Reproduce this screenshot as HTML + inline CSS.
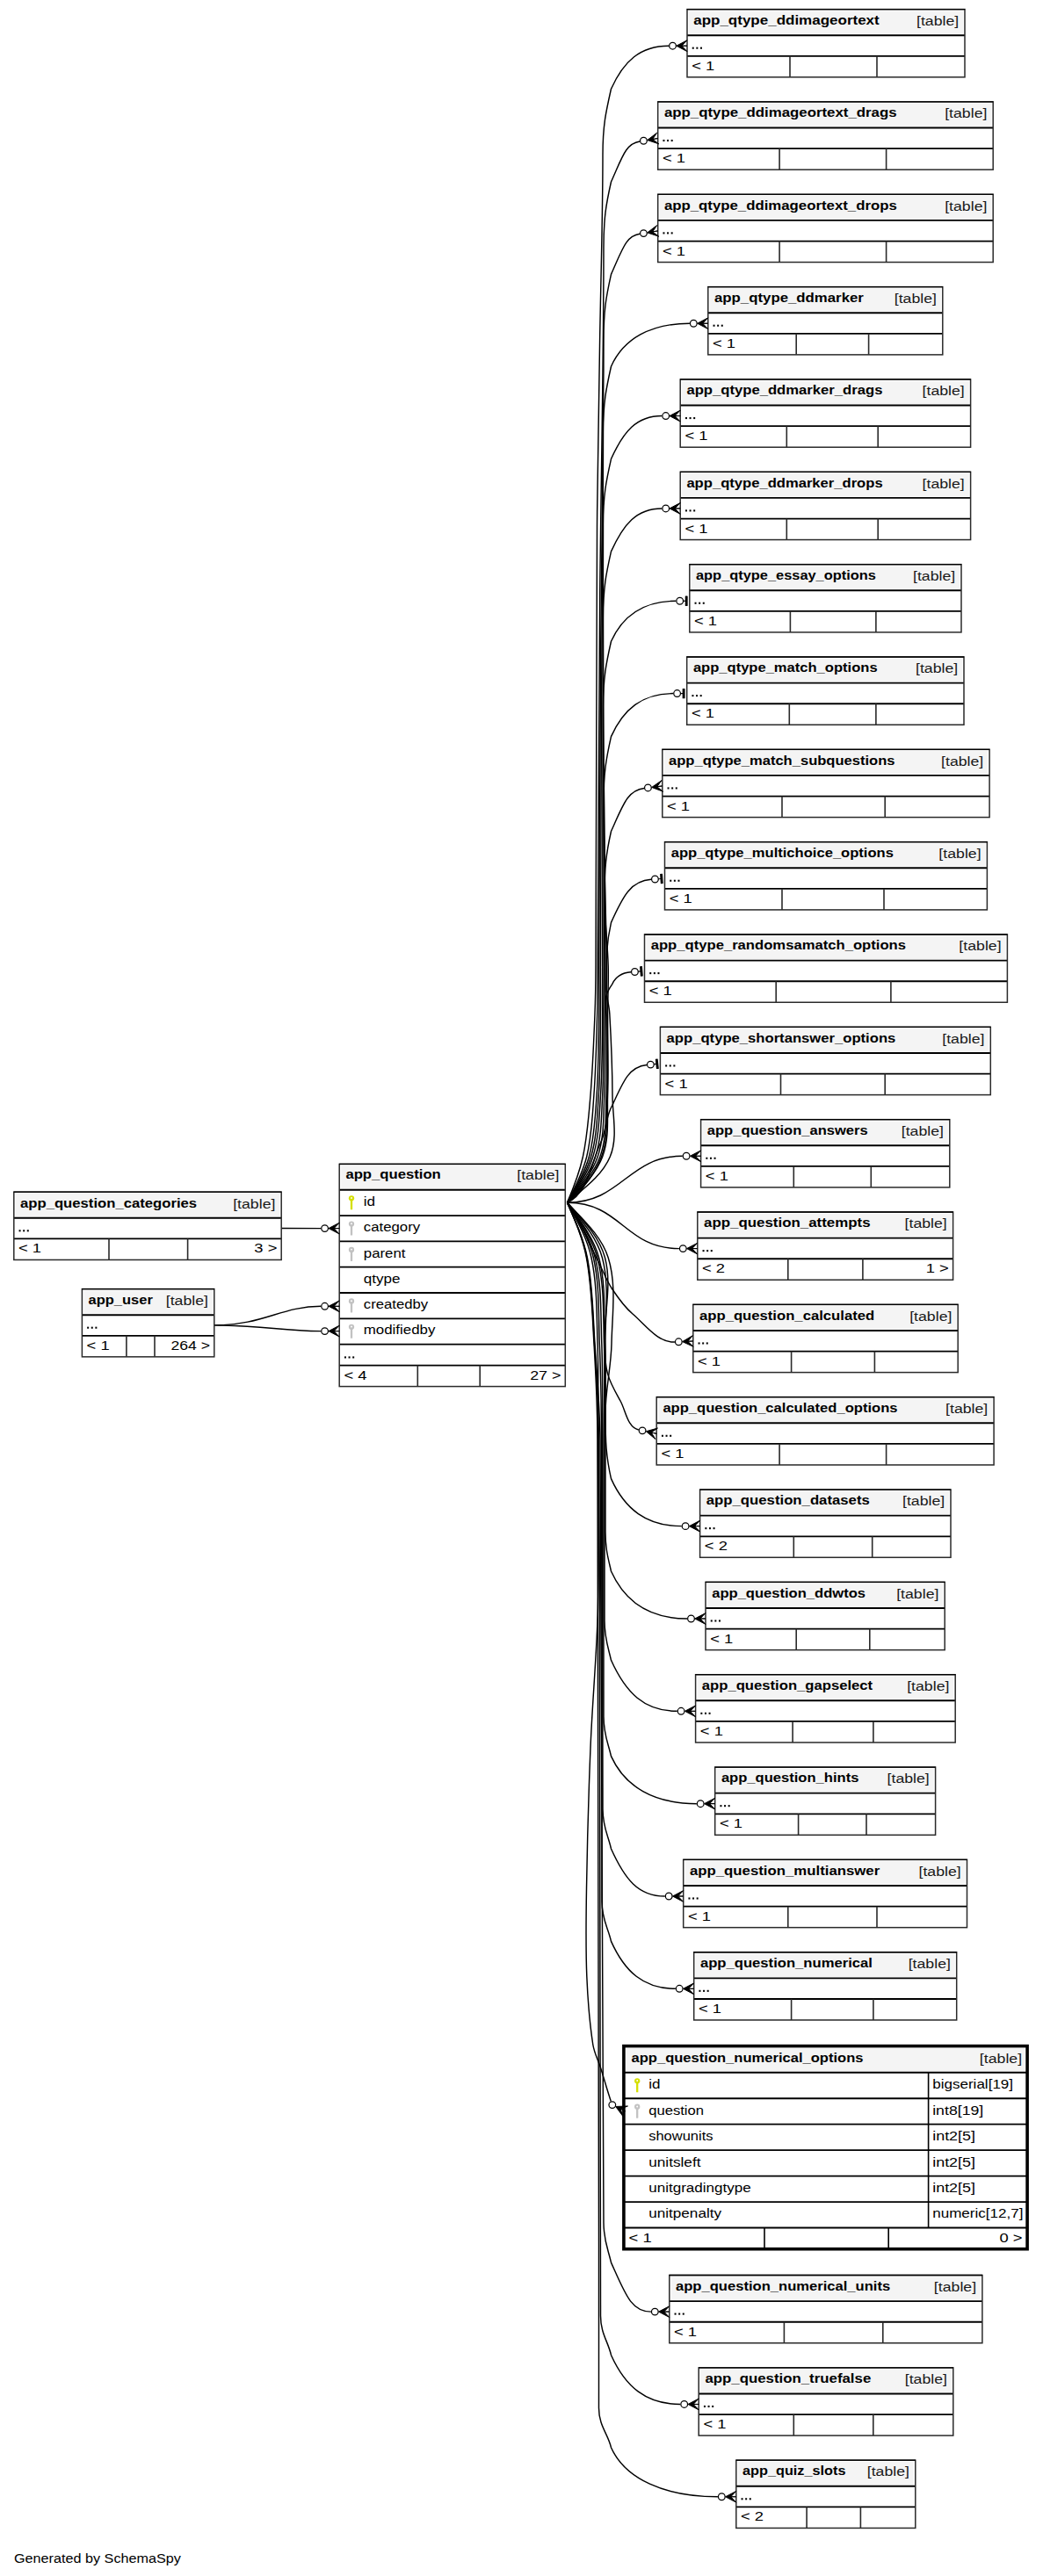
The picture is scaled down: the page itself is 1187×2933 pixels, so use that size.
<!DOCTYPE html>
<html><head><meta charset="utf-8"><title>SchemaSpy diagram</title>
<style>
html,body{margin:0;padding:0;background:#fff;}
svg{display:block;}
text{font-family:"Liberation Sans",sans-serif;}
</style></head><body>
<svg width="1187" height="2933" viewBox="0 0 1187 2933">
<rect width="1187" height="2933" fill="#fff"/>
<path d="M645.50,1369.30 C652.75,1352.36 659.50,1335.01 663.40,1317.00 C668.38,1294.02 670.05,1270.43 672.00,1247.00 C674.58,1216.06 675.73,1185.02 677.00,1154.00 C677.73,1136.01 677.92,1118.00 678.00,1100.00 C678.75,933.33 678.44,766.66 679.50,600.00 C679.94,531.33 681.45,462.67 682.50,394.00 C683.61,321.40 686.00,248.81 686.00,176.20 C686.00,142.45 689.72,126.81 695.50,101.20 C709.58,69.92 728.30,52.20 761.10,52.20" fill="none" stroke="#000" stroke-width="1.45"/>
<path d="M645.50,1369.30 C654.38,1352.57 663.13,1335.38 667.70,1317.00 C673.37,1294.20 674.18,1270.43 675.90,1247.00 C678.18,1216.06 678.79,1185.01 679.70,1154.00 C680.23,1136.01 680.09,1118.00 680.20,1100.00 C681.05,963.67 681.45,827.33 682.58,690.99 C683.71,554.66 687.00,418.33 687.00,281.99 C687.00,248.24 689.72,232.60 695.50,206.99 C708.71,177.63 712.02,163.68 728.09,160.99" fill="none" stroke="#000" stroke-width="1.45"/>
<path d="M645.50,1369.30 C655.37,1352.71 665.28,1335.62 670.40,1317.00 C676.63,1294.33 677.46,1270.46 679.10,1247.00 C681.26,1216.06 681.23,1185.01 681.80,1154.00 C682.13,1136.00 681.72,1118.00 681.80,1100.00 C682.33,981.22 682.75,862.44 683.62,743.66 C684.49,624.88 687.00,506.11 687.00,387.33 C687.00,353.58 689.72,337.94 695.50,312.33 C708.71,282.97 712.02,269.02 728.09,266.33" fill="none" stroke="#000" stroke-width="1.45"/>
<path d="M645.50,1369.30 C656.17,1352.82 667.08,1335.84 672.60,1317.00 C679.21,1294.43 679.73,1270.46 681.30,1247.00 C683.37,1216.06 683.04,1185.01 683.50,1154.00 C683.77,1136.00 683.45,1118.00 683.50,1100.00 C683.80,998.70 684.05,897.41 684.55,796.11 C685.05,694.81 686.50,593.52 686.50,492.22 C686.50,458.47 689.72,442.83 695.50,417.22 C709.58,385.94 740.20,368.22 784.90,368.22" fill="none" stroke="#000" stroke-width="1.45"/>
<path d="M645.50,1369.30 C656.96,1352.93 668.87,1336.08 674.80,1317.00 C681.78,1294.55 681.93,1270.46 683.50,1247.00 C685.57,1216.06 685.24,1185.01 685.70,1154.00 C685.97,1136.00 685.68,1118.00 685.70,1100.00 C685.78,1016.26 685.85,932.52 685.98,848.78 C686.11,765.04 686.50,681.30 686.50,597.56 C686.50,563.81 689.72,548.17 695.50,522.56 C709.58,491.28 724.40,473.56 753.30,473.56" fill="none" stroke="#000" stroke-width="1.45"/>
<path d="M645.50,1369.30 C657.92,1353.07 671.12,1336.42 677.50,1317.00 C684.84,1294.68 684.38,1270.46 685.70,1247.00 C687.45,1216.05 686.36,1185.00 686.70,1154.00 C686.90,1136.00 687.28,1118.00 687.30,1100.00 C687.38,1033.82 687.15,967.63 687.02,901.45 C686.89,835.27 686.50,769.08 686.50,702.90 C686.50,669.15 689.72,653.51 695.50,627.90 C709.58,596.62 724.40,578.90 753.30,578.90" fill="none" stroke="#000" stroke-width="1.45"/>
<path d="M645.50,1369.30 C658.86,1353.20 673.36,1336.77 680.20,1317.00 C687.87,1294.82 686.62,1270.44 687.80,1247.00 C689.36,1216.04 688.17,1185.00 688.40,1154.00 C688.53,1136.00 688.93,1118.00 688.90,1100.00 C688.82,1050.87 688.46,1001.75 688.06,952.62 C687.66,903.49 686.50,854.37 686.50,805.24 C686.50,771.49 689.72,755.85 695.50,730.24 C708.71,700.88 732.40,684.24 769.30,684.24" fill="none" stroke="#000" stroke-width="1.45"/>
<path d="M645.50,1369.30 C659.78,1353.32 675.57,1337.14 682.90,1317.00 C690.92,1294.96 688.98,1270.43 690.00,1247.00 C691.35,1216.03 689.89,1185.00 690.00,1154.00 C690.06,1136.00 690.72,1118.00 690.50,1100.00 C689.72,1037.85 687.00,975.73 687.00,913.58 C687.00,879.83 689.72,864.19 695.50,838.58 C709.58,807.30 730.85,789.58 766.20,789.58" fill="none" stroke="#000" stroke-width="1.45"/>
<path d="M645.50,1369.30 C660.73,1353.44 677.94,1337.58 685.70,1317.00 C693.96,1295.09 690.75,1270.40 691.60,1247.00 C692.72,1216.02 691.47,1185.00 691.60,1154.00 C691.67,1136.00 692.69,1117.99 692.20,1100.00 C691.49,1073.79 688.00,1047.68 688.00,1021.47 C688.00,987.72 689.72,972.07 695.50,946.47 C709.58,915.19 714.42,899.76 733.06,897.47" fill="none" stroke="#000" stroke-width="1.45"/>
<path d="M645.50,1369.30 C663.60,1353.78 685.05,1338.97 694.30,1317.00 C703.36,1295.48 697.07,1270.35 697.00,1247.00 C696.90,1215.98 695.58,1184.97 693.80,1154.00 C693.25,1144.38 690.00,1134.98 690.00,1125.34 C690.00,1091.59 689.72,1075.95 695.50,1050.34 C709.58,1019.06 718.32,1002.93 741.04,1001.34" fill="none" stroke="#000" stroke-width="1.45"/>
<path d="M645.50,1369.30 C662.21,1355.38 676.92,1337.38 684.50,1317.00 C692.67,1295.04 690.11,1270.42 691.00,1247.00 C692.11,1218.02 690.92,1189.00 690.50,1160.00 C690.38,1151.99 688.16,1143.91 689.40,1136.00 C690.28,1130.39 693.44,1125.25 696.70,1120.60 C700.66,1111.80 707.41,1107.65 718.05,1106.82" fill="none" stroke="#000" stroke-width="1.45"/>
<path d="M645.50,1369.30 C669.56,1358.37 672.88,1323.97 684.00,1300.00 C690.03,1287.00 689.33,1271.22 696.70,1258.94 C710.02,1229.33 716.45,1214.61 735.98,1212.56" fill="none" stroke="#000" stroke-width="1.45"/>
<path d="M645.50,1369.30 C707.50,1369.30 714.70,1316.28 776.70,1316.28" fill="none" stroke="#000" stroke-width="1.45"/>
<path d="M645.50,1369.30 C707.50,1369.30 710.90,1421.62 772.90,1421.62" fill="none" stroke="#000" stroke-width="1.45"/>
<path d="M645.50,1369.30 C661.66,1389.50 669.66,1415.05 681.60,1438.00 C686.69,1447.79 690.51,1458.30 696.60,1467.50 C703.39,1477.75 710.63,1488.04 720.00,1496.00 C734.65,1508.44 748.74,1529.06 767.93,1528.05" fill="none" stroke="#000" stroke-width="1.45"/>
<path d="M645.50,1369.30 C662.45,1388.14 682.03,1407.50 688.50,1432.00 C696.83,1463.59 687.14,1497.34 687.90,1530.00 C688.17,1541.53 688.51,1553.29 691.60,1564.40 C694.62,1575.26 700.54,1585.14 706.00,1595.00 C712.28,1606.36 714.06,1625.26 726.76,1627.95" fill="none" stroke="#000" stroke-width="1.45"/>
<path d="M645.50,1369.30 C663.26,1388.37 684.39,1407.14 692.20,1432.00 C702.00,1463.19 696.59,1497.31 696.00,1530.00 C695.52,1556.31 689.00,1582.32 689.00,1608.64 C689.00,1642.39 689.72,1658.03 695.50,1683.64 C711.01,1718.11 735.60,1737.64 775.70,1737.64" fill="none" stroke="#000" stroke-width="1.45"/>
<path d="M645.50,1369.30 C660.92,1388.69 678.93,1408.09 685.40,1432.00 C693.94,1463.55 688.43,1497.32 689.00,1530.00 C689.63,1566.66 689.00,1603.33 689.00,1640.00 C689.00,1674.66 689.00,1709.32 689.00,1743.98 C689.00,1764.23 692.03,1773.62 695.50,1788.98 C711.01,1823.45 738.80,1842.98 782.10,1842.98" fill="none" stroke="#000" stroke-width="1.45"/>
<path d="M645.50,1369.30 C659.59,1388.87 675.43,1408.68 681.60,1432.00 C689.97,1463.65 686.99,1497.28 688.00,1530.00 C689.13,1566.65 688.00,1603.33 688.00,1640.00 C688.00,1708.44 688.00,1776.88 688.00,1845.32 C688.00,1865.57 692.03,1874.96 695.50,1890.32 C712.16,1927.34 733.10,1948.32 770.70,1948.32" fill="none" stroke="#000" stroke-width="1.45"/>
<path d="M645.50,1369.30 C658.95,1388.96 673.78,1408.95 679.80,1432.00 C688.09,1463.70 686.37,1497.25 687.50,1530.00 C688.77,1566.65 687.04,1603.33 687.00,1640.00 C686.88,1744.89 687.00,1849.77 687.00,1954.66 C687.00,1974.91 692.03,1984.30 695.50,1999.66 C711.01,2034.13 744.15,2053.66 792.80,2053.66" fill="none" stroke="#000" stroke-width="1.45"/>
<path d="M645.50,1369.30 C658.05,1389.09 671.73,1409.24 677.30,1432.00 C685.08,1463.82 683.51,1497.26 684.80,1530.00 C686.24,1566.64 685.42,1603.33 685.50,1640.00 C685.82,1780.00 686.00,1920.00 686.00,2060.00 C686.00,2080.25 692.03,2089.64 695.50,2105.00 C711.01,2139.47 726.15,2159.00 756.80,2159.00" fill="none" stroke="#000" stroke-width="1.45"/>
<path d="M645.50,1369.30 C657.36,1389.19 670.23,1409.43 675.40,1432.00 C682.71,1463.92 680.87,1497.28 682.30,1530.00 C683.90,1566.64 684.34,1603.33 684.50,1640.00 C685.24,1815.11 685.00,1990.23 685.00,2165.34 C685.00,2185.59 692.03,2194.98 695.50,2210.34 C711.01,2244.81 732.15,2264.34 768.80,2264.34" fill="none" stroke="#000" stroke-width="1.45"/>
<path d="M645.50,1369.30 C654.74,1389.54 664.12,1410.17 668.40,1432.00 C674.71,1464.18 674.70,1497.29 677.00,1530.00 C679.57,1566.63 682.63,1603.28 683.00,1640.00 C685.97,1937.02 687.00,2234.06 687.00,2531.10 C687.00,2551.35 692.03,2560.74 695.50,2576.10 C711.59,2611.85 718.20,2632.10 740.90,2632.10" fill="none" stroke="#000" stroke-width="1.45"/>
<path d="M645.50,1369.30 C654.55,1389.56 663.70,1410.21 667.90,1432.00 C674.11,1464.20 674.36,1497.28 676.50,1530.00 C678.89,1566.63 681.27,1603.30 681.50,1640.00 C683.60,1972.14 683.50,2304.29 683.50,2636.44 C683.50,2656.69 692.03,2666.08 695.50,2681.44 C711.59,2717.19 734.90,2737.44 774.30,2737.44" fill="none" stroke="#000" stroke-width="1.45"/>
<path d="M645.50,1369.30 C654.36,1389.59 663.27,1410.25 667.40,1432.00 C673.51,1464.22 674.02,1497.27 676.00,1530.00 C678.22,1566.62 679.83,1603.31 680.00,1640.00 C681.67,2007.26 681.50,2374.52 681.50,2741.78 C681.50,2762.03 692.03,2771.42 695.50,2786.78 C711.59,2822.53 756.20,2842.78 816.90,2842.78" fill="none" stroke="#000" stroke-width="1.45"/>
<path d="M645.50,1369.30 C656.47,1389.31 668.20,1409.69 673.00,1432.00 C679.89,1464.02 678.92,1497.27 680.10,1530.00 C681.42,1566.64 680.45,1603.33 680.50,1640.00 C680.58,1703.33 682.04,1766.69 680.50,1830.00 C679.20,1883.39 674.17,1936.64 672.00,1990.00 C669.83,2043.31 668.36,2096.65 667.50,2150.00 C666.96,2183.33 666.43,2216.69 667.80,2250.00 C668.87,2276.08 670.86,2302.19 674.80,2328.00 C676.26,2337.55 680.97,2346.30 683.90,2355.50 C687.80,2367.77 691.05,2380.25 695.30,2392.40" fill="none" stroke="#000" stroke-width="1.45"/>
<path d="M320.2,1398.55 L365.2,1398.60" fill="none" stroke="#000" stroke-width="1.45"/>
<path d="M244.0,1508.85 C300,1508.85 320,1487.3 365.2,1487.3" fill="none" stroke="#000" stroke-width="1.45"/>
<path d="M244.0,1508.85 C300,1508.85 320,1515.6 365.2,1515.6" fill="none" stroke="#000" stroke-width="1.45"/>
<rect x="782.00" y="10.60" width="316.00" height="77.25" fill="#fff"/>
<rect x="784.00" y="12.40" width="312.00" height="26.45" fill="#f4f4f4"/>
<line x1="782.00" y1="40.20" x2="1098.00" y2="40.20" stroke="#000" stroke-width="1.90"/>
<line x1="782.00" y1="63.85" x2="1098.00" y2="63.85" stroke="#000" stroke-width="1.80"/>
<line x1="899.00" y1="63.85" x2="899.00" y2="87.85" stroke="#2a2a2a" stroke-width="1.60"/>
<line x1="998.00" y1="63.85" x2="998.00" y2="87.85" stroke="#2a2a2a" stroke-width="1.60"/>
<rect x="782.00" y="10.60" width="316.00" height="77.25" fill="none" stroke="#2a2a2a" stroke-width="1.50"/>
<line x1="781.80" y1="10.60" x2="1098.20" y2="10.60" stroke="#000" stroke-width="1.30"/>
<text x="789.20" y="27.90" font-size="15.20" font-weight="bold" textLength="211.55" lengthAdjust="spacingAndGlyphs" fill="#000">app_qtype_ddimageortext</text>
<text x="1042.99" y="28.90" font-size="15.20" textLength="48.21" lengthAdjust="spacingAndGlyphs" fill="#1a1a1a">[table]</text>
<rect x="787.75" y="53.65" width="2.0" height="2.1" fill="#000"/>
<rect x="792.36" y="53.65" width="2.0" height="2.1" fill="#000"/>
<rect x="796.97" y="53.65" width="2.0" height="2.1" fill="#000"/>
<text x="787.20" y="79.85" font-size="15.20" textLength="26.07" lengthAdjust="spacingAndGlyphs" fill="#000">&lt; 1</text>
<rect x="748.70" y="115.94" width="381.50" height="77.25" fill="#fff"/>
<rect x="750.70" y="117.74" width="377.50" height="26.45" fill="#f4f4f4"/>
<line x1="748.70" y1="145.54" x2="1130.20" y2="145.54" stroke="#000" stroke-width="1.90"/>
<line x1="748.70" y1="169.19" x2="1130.20" y2="169.19" stroke="#000" stroke-width="1.80"/>
<line x1="887.10" y1="169.19" x2="887.10" y2="193.19" stroke="#2a2a2a" stroke-width="1.60"/>
<line x1="1008.60" y1="169.19" x2="1008.60" y2="193.19" stroke="#2a2a2a" stroke-width="1.60"/>
<rect x="748.70" y="115.94" width="381.50" height="77.25" fill="none" stroke="#2a2a2a" stroke-width="1.50"/>
<line x1="748.50" y1="115.94" x2="1130.40" y2="115.94" stroke="#000" stroke-width="1.30"/>
<text x="755.90" y="133.24" font-size="15.20" font-weight="bold" textLength="264.75" lengthAdjust="spacingAndGlyphs" fill="#000">app_qtype_ddimageortext_drags</text>
<text x="1075.19" y="134.24" font-size="15.20" textLength="48.21" lengthAdjust="spacingAndGlyphs" fill="#1a1a1a">[table]</text>
<rect x="754.45" y="158.99" width="2.0" height="2.1" fill="#000"/>
<rect x="759.06" y="158.99" width="2.0" height="2.1" fill="#000"/>
<rect x="763.67" y="158.99" width="2.0" height="2.1" fill="#000"/>
<text x="753.90" y="185.19" font-size="15.20" textLength="26.07" lengthAdjust="spacingAndGlyphs" fill="#000">&lt; 1</text>
<rect x="748.70" y="221.28" width="381.50" height="77.25" fill="#fff"/>
<rect x="750.70" y="223.08" width="377.50" height="26.45" fill="#f4f4f4"/>
<line x1="748.70" y1="250.88" x2="1130.20" y2="250.88" stroke="#000" stroke-width="1.90"/>
<line x1="748.70" y1="274.53" x2="1130.20" y2="274.53" stroke="#000" stroke-width="1.80"/>
<line x1="887.10" y1="274.53" x2="887.10" y2="298.53" stroke="#2a2a2a" stroke-width="1.60"/>
<line x1="1008.60" y1="274.53" x2="1008.60" y2="298.53" stroke="#2a2a2a" stroke-width="1.60"/>
<rect x="748.70" y="221.28" width="381.50" height="77.25" fill="none" stroke="#2a2a2a" stroke-width="1.50"/>
<line x1="748.50" y1="221.28" x2="1130.40" y2="221.28" stroke="#000" stroke-width="1.30"/>
<text x="755.90" y="238.58" font-size="15.20" font-weight="bold" textLength="264.93" lengthAdjust="spacingAndGlyphs" fill="#000">app_qtype_ddimageortext_drops</text>
<text x="1075.19" y="239.58" font-size="15.20" textLength="48.21" lengthAdjust="spacingAndGlyphs" fill="#1a1a1a">[table]</text>
<rect x="754.45" y="264.33" width="2.0" height="2.1" fill="#000"/>
<rect x="759.06" y="264.33" width="2.0" height="2.1" fill="#000"/>
<rect x="763.67" y="264.33" width="2.0" height="2.1" fill="#000"/>
<text x="753.90" y="290.53" font-size="15.20" textLength="26.07" lengthAdjust="spacingAndGlyphs" fill="#000">&lt; 1</text>
<rect x="805.80" y="326.62" width="267.00" height="77.25" fill="#fff"/>
<rect x="807.80" y="328.42" width="263.00" height="26.45" fill="#f4f4f4"/>
<line x1="805.80" y1="356.22" x2="1072.80" y2="356.22" stroke="#000" stroke-width="1.90"/>
<line x1="805.80" y1="379.87" x2="1072.80" y2="379.87" stroke="#000" stroke-width="1.80"/>
<line x1="906.20" y1="379.87" x2="906.20" y2="403.87" stroke="#2a2a2a" stroke-width="1.60"/>
<line x1="988.60" y1="379.87" x2="988.60" y2="403.87" stroke="#2a2a2a" stroke-width="1.60"/>
<rect x="805.80" y="326.62" width="267.00" height="77.25" fill="none" stroke="#2a2a2a" stroke-width="1.50"/>
<line x1="805.60" y1="326.62" x2="1073.00" y2="326.62" stroke="#000" stroke-width="1.30"/>
<text x="813.00" y="343.92" font-size="15.20" font-weight="bold" textLength="169.88" lengthAdjust="spacingAndGlyphs" fill="#000">app_qtype_ddmarker</text>
<text x="1017.79" y="344.92" font-size="15.20" textLength="48.21" lengthAdjust="spacingAndGlyphs" fill="#1a1a1a">[table]</text>
<rect x="811.55" y="369.67" width="2.0" height="2.1" fill="#000"/>
<rect x="816.16" y="369.67" width="2.0" height="2.1" fill="#000"/>
<rect x="820.77" y="369.67" width="2.0" height="2.1" fill="#000"/>
<text x="811.00" y="395.87" font-size="15.20" textLength="26.07" lengthAdjust="spacingAndGlyphs" fill="#000">&lt; 1</text>
<rect x="774.20" y="431.96" width="330.40" height="77.25" fill="#fff"/>
<rect x="776.20" y="433.76" width="326.40" height="26.45" fill="#f4f4f4"/>
<line x1="774.20" y1="461.56" x2="1104.60" y2="461.56" stroke="#000" stroke-width="1.90"/>
<line x1="774.20" y1="485.21" x2="1104.60" y2="485.21" stroke="#000" stroke-width="1.80"/>
<line x1="895.30" y1="485.21" x2="895.30" y2="509.21" stroke="#2a2a2a" stroke-width="1.60"/>
<line x1="999.20" y1="485.21" x2="999.20" y2="509.21" stroke="#2a2a2a" stroke-width="1.60"/>
<rect x="774.20" y="431.96" width="330.40" height="77.25" fill="none" stroke="#2a2a2a" stroke-width="1.50"/>
<line x1="774.00" y1="431.96" x2="1104.80" y2="431.96" stroke="#000" stroke-width="1.30"/>
<text x="781.40" y="449.26" font-size="15.20" font-weight="bold" textLength="223.08" lengthAdjust="spacingAndGlyphs" fill="#000">app_qtype_ddmarker_drags</text>
<text x="1049.59" y="450.26" font-size="15.20" textLength="48.21" lengthAdjust="spacingAndGlyphs" fill="#1a1a1a">[table]</text>
<rect x="779.95" y="475.01" width="2.0" height="2.1" fill="#000"/>
<rect x="784.56" y="475.01" width="2.0" height="2.1" fill="#000"/>
<rect x="789.17" y="475.01" width="2.0" height="2.1" fill="#000"/>
<text x="779.40" y="501.21" font-size="15.20" textLength="26.07" lengthAdjust="spacingAndGlyphs" fill="#000">&lt; 1</text>
<rect x="774.20" y="537.30" width="330.40" height="77.25" fill="#fff"/>
<rect x="776.20" y="539.10" width="326.40" height="26.45" fill="#f4f4f4"/>
<line x1="774.20" y1="566.90" x2="1104.60" y2="566.90" stroke="#000" stroke-width="1.90"/>
<line x1="774.20" y1="590.55" x2="1104.60" y2="590.55" stroke="#000" stroke-width="1.80"/>
<line x1="895.30" y1="590.55" x2="895.30" y2="614.55" stroke="#2a2a2a" stroke-width="1.60"/>
<line x1="999.20" y1="590.55" x2="999.20" y2="614.55" stroke="#2a2a2a" stroke-width="1.60"/>
<rect x="774.20" y="537.30" width="330.40" height="77.25" fill="none" stroke="#2a2a2a" stroke-width="1.50"/>
<line x1="774.00" y1="537.30" x2="1104.80" y2="537.30" stroke="#000" stroke-width="1.30"/>
<text x="781.40" y="554.60" font-size="15.20" font-weight="bold" textLength="223.26" lengthAdjust="spacingAndGlyphs" fill="#000">app_qtype_ddmarker_drops</text>
<text x="1049.59" y="555.60" font-size="15.20" textLength="48.21" lengthAdjust="spacingAndGlyphs" fill="#1a1a1a">[table]</text>
<rect x="779.95" y="580.35" width="2.0" height="2.1" fill="#000"/>
<rect x="784.56" y="580.35" width="2.0" height="2.1" fill="#000"/>
<rect x="789.17" y="580.35" width="2.0" height="2.1" fill="#000"/>
<text x="779.40" y="606.55" font-size="15.20" textLength="26.07" lengthAdjust="spacingAndGlyphs" fill="#000">&lt; 1</text>
<rect x="784.80" y="642.64" width="309.20" height="77.25" fill="#fff"/>
<rect x="786.80" y="644.44" width="305.20" height="26.45" fill="#f4f4f4"/>
<line x1="784.80" y1="672.24" x2="1094.00" y2="672.24" stroke="#000" stroke-width="1.90"/>
<line x1="784.80" y1="695.89" x2="1094.00" y2="695.89" stroke="#000" stroke-width="1.80"/>
<line x1="899.40" y1="695.89" x2="899.40" y2="719.89" stroke="#2a2a2a" stroke-width="1.60"/>
<line x1="996.90" y1="695.89" x2="996.90" y2="719.89" stroke="#2a2a2a" stroke-width="1.60"/>
<rect x="784.80" y="642.64" width="309.20" height="77.25" fill="none" stroke="#2a2a2a" stroke-width="1.50"/>
<line x1="784.60" y1="642.64" x2="1094.20" y2="642.64" stroke="#000" stroke-width="1.30"/>
<text x="792.00" y="659.94" font-size="15.20" font-weight="bold" textLength="204.89" lengthAdjust="spacingAndGlyphs" fill="#000">app_qtype_essay_options</text>
<text x="1038.99" y="660.94" font-size="15.20" textLength="48.21" lengthAdjust="spacingAndGlyphs" fill="#1a1a1a">[table]</text>
<rect x="790.55" y="685.69" width="2.0" height="2.1" fill="#000"/>
<rect x="795.16" y="685.69" width="2.0" height="2.1" fill="#000"/>
<rect x="799.77" y="685.69" width="2.0" height="2.1" fill="#000"/>
<text x="790.00" y="711.89" font-size="15.20" textLength="26.07" lengthAdjust="spacingAndGlyphs" fill="#000">&lt; 1</text>
<rect x="781.70" y="747.98" width="315.30" height="77.25" fill="#fff"/>
<rect x="783.70" y="749.78" width="311.30" height="26.45" fill="#f4f4f4"/>
<line x1="781.70" y1="777.58" x2="1097.00" y2="777.58" stroke="#000" stroke-width="1.90"/>
<line x1="781.70" y1="801.23" x2="1097.00" y2="801.23" stroke="#000" stroke-width="1.80"/>
<line x1="898.30" y1="801.23" x2="898.30" y2="825.23" stroke="#2a2a2a" stroke-width="1.60"/>
<line x1="996.90" y1="801.23" x2="996.90" y2="825.23" stroke="#2a2a2a" stroke-width="1.60"/>
<rect x="781.70" y="747.98" width="315.30" height="77.25" fill="none" stroke="#2a2a2a" stroke-width="1.50"/>
<line x1="781.50" y1="747.98" x2="1097.20" y2="747.98" stroke="#000" stroke-width="1.30"/>
<text x="788.90" y="765.28" font-size="15.20" font-weight="bold" textLength="209.71" lengthAdjust="spacingAndGlyphs" fill="#000">app_qtype_match_options</text>
<text x="1041.99" y="766.28" font-size="15.20" textLength="48.21" lengthAdjust="spacingAndGlyphs" fill="#1a1a1a">[table]</text>
<rect x="787.45" y="791.03" width="2.0" height="2.1" fill="#000"/>
<rect x="792.06" y="791.03" width="2.0" height="2.1" fill="#000"/>
<rect x="796.67" y="791.03" width="2.0" height="2.1" fill="#000"/>
<text x="786.90" y="817.23" font-size="15.20" textLength="26.07" lengthAdjust="spacingAndGlyphs" fill="#000">&lt; 1</text>
<rect x="753.80" y="853.32" width="372.30" height="77.25" fill="#fff"/>
<rect x="755.80" y="855.12" width="368.30" height="26.45" fill="#f4f4f4"/>
<line x1="753.80" y1="882.92" x2="1126.10" y2="882.92" stroke="#000" stroke-width="1.90"/>
<line x1="753.80" y1="906.57" x2="1126.10" y2="906.57" stroke="#000" stroke-width="1.80"/>
<line x1="890.00" y1="906.57" x2="890.00" y2="930.57" stroke="#2a2a2a" stroke-width="1.60"/>
<line x1="1007.20" y1="906.57" x2="1007.20" y2="930.57" stroke="#2a2a2a" stroke-width="1.60"/>
<rect x="753.80" y="853.32" width="372.30" height="77.25" fill="none" stroke="#2a2a2a" stroke-width="1.50"/>
<line x1="753.60" y1="853.32" x2="1126.30" y2="853.32" stroke="#000" stroke-width="1.30"/>
<text x="761.00" y="870.62" font-size="15.20" font-weight="bold" textLength="257.54" lengthAdjust="spacingAndGlyphs" fill="#000">app_qtype_match_subquestions</text>
<text x="1071.09" y="871.62" font-size="15.20" textLength="48.21" lengthAdjust="spacingAndGlyphs" fill="#1a1a1a">[table]</text>
<rect x="759.55" y="896.37" width="2.0" height="2.1" fill="#000"/>
<rect x="764.16" y="896.37" width="2.0" height="2.1" fill="#000"/>
<rect x="768.77" y="896.37" width="2.0" height="2.1" fill="#000"/>
<text x="759.00" y="922.57" font-size="15.20" textLength="26.07" lengthAdjust="spacingAndGlyphs" fill="#000">&lt; 1</text>
<rect x="756.50" y="958.66" width="366.90" height="77.25" fill="#fff"/>
<rect x="758.50" y="960.46" width="362.90" height="26.45" fill="#f4f4f4"/>
<line x1="756.50" y1="988.26" x2="1123.40" y2="988.26" stroke="#000" stroke-width="1.90"/>
<line x1="756.50" y1="1011.91" x2="1123.40" y2="1011.91" stroke="#000" stroke-width="1.80"/>
<line x1="890.00" y1="1011.91" x2="890.00" y2="1035.91" stroke="#2a2a2a" stroke-width="1.60"/>
<line x1="1006.00" y1="1011.91" x2="1006.00" y2="1035.91" stroke="#2a2a2a" stroke-width="1.60"/>
<rect x="756.50" y="958.66" width="366.90" height="77.25" fill="none" stroke="#2a2a2a" stroke-width="1.50"/>
<line x1="756.30" y1="958.66" x2="1123.60" y2="958.66" stroke="#000" stroke-width="1.30"/>
<text x="763.70" y="975.96" font-size="15.20" font-weight="bold" textLength="253.25" lengthAdjust="spacingAndGlyphs" fill="#000">app_qtype_multichoice_options</text>
<text x="1068.39" y="976.96" font-size="15.20" textLength="48.21" lengthAdjust="spacingAndGlyphs" fill="#1a1a1a">[table]</text>
<rect x="762.25" y="1001.71" width="2.0" height="2.1" fill="#000"/>
<rect x="766.86" y="1001.71" width="2.0" height="2.1" fill="#000"/>
<rect x="771.47" y="1001.71" width="2.0" height="2.1" fill="#000"/>
<text x="761.70" y="1027.91" font-size="15.20" textLength="26.07" lengthAdjust="spacingAndGlyphs" fill="#000">&lt; 1</text>
<rect x="733.50" y="1064.00" width="412.90" height="77.25" fill="#fff"/>
<rect x="735.50" y="1065.80" width="408.90" height="26.45" fill="#f4f4f4"/>
<line x1="733.50" y1="1093.60" x2="1146.40" y2="1093.60" stroke="#000" stroke-width="1.90"/>
<line x1="733.50" y1="1117.25" x2="1146.40" y2="1117.25" stroke="#000" stroke-width="1.80"/>
<line x1="883.20" y1="1117.25" x2="883.20" y2="1141.25" stroke="#2a2a2a" stroke-width="1.60"/>
<line x1="1013.90" y1="1117.25" x2="1013.90" y2="1141.25" stroke="#2a2a2a" stroke-width="1.60"/>
<rect x="733.50" y="1064.00" width="412.90" height="77.25" fill="none" stroke="#2a2a2a" stroke-width="1.50"/>
<line x1="733.30" y1="1064.00" x2="1146.60" y2="1064.00" stroke="#000" stroke-width="1.30"/>
<text x="740.70" y="1081.30" font-size="15.20" font-weight="bold" textLength="290.27" lengthAdjust="spacingAndGlyphs" fill="#000">app_qtype_randomsamatch_options</text>
<text x="1091.39" y="1082.30" font-size="15.20" textLength="48.21" lengthAdjust="spacingAndGlyphs" fill="#1a1a1a">[table]</text>
<rect x="739.25" y="1107.05" width="2.0" height="2.1" fill="#000"/>
<rect x="743.86" y="1107.05" width="2.0" height="2.1" fill="#000"/>
<rect x="748.47" y="1107.05" width="2.0" height="2.1" fill="#000"/>
<text x="738.70" y="1133.25" font-size="15.20" textLength="26.07" lengthAdjust="spacingAndGlyphs" fill="#000">&lt; 1</text>
<rect x="751.40" y="1169.34" width="375.90" height="77.25" fill="#fff"/>
<rect x="753.40" y="1171.14" width="371.90" height="26.45" fill="#f4f4f4"/>
<line x1="751.40" y1="1198.94" x2="1127.30" y2="1198.94" stroke="#000" stroke-width="1.90"/>
<line x1="751.40" y1="1222.59" x2="1127.30" y2="1222.59" stroke="#000" stroke-width="1.80"/>
<line x1="888.50" y1="1222.59" x2="888.50" y2="1246.59" stroke="#2a2a2a" stroke-width="1.60"/>
<line x1="1007.20" y1="1222.59" x2="1007.20" y2="1246.59" stroke="#2a2a2a" stroke-width="1.60"/>
<rect x="751.40" y="1169.34" width="375.90" height="77.25" fill="none" stroke="#2a2a2a" stroke-width="1.50"/>
<line x1="751.20" y1="1169.34" x2="1127.50" y2="1169.34" stroke="#000" stroke-width="1.30"/>
<text x="758.60" y="1186.64" font-size="15.20" font-weight="bold" textLength="260.73" lengthAdjust="spacingAndGlyphs" fill="#000">app_qtype_shortanswer_options</text>
<text x="1072.29" y="1187.64" font-size="15.20" textLength="48.21" lengthAdjust="spacingAndGlyphs" fill="#1a1a1a">[table]</text>
<rect x="757.15" y="1212.39" width="2.0" height="2.1" fill="#000"/>
<rect x="761.76" y="1212.39" width="2.0" height="2.1" fill="#000"/>
<rect x="766.37" y="1212.39" width="2.0" height="2.1" fill="#000"/>
<text x="756.60" y="1238.59" font-size="15.20" textLength="26.07" lengthAdjust="spacingAndGlyphs" fill="#000">&lt; 1</text>
<rect x="797.60" y="1274.68" width="283.20" height="77.25" fill="#fff"/>
<rect x="799.60" y="1276.48" width="279.20" height="26.45" fill="#f4f4f4"/>
<line x1="797.60" y1="1304.28" x2="1080.80" y2="1304.28" stroke="#000" stroke-width="1.90"/>
<line x1="797.60" y1="1327.93" x2="1080.80" y2="1327.93" stroke="#000" stroke-width="1.80"/>
<line x1="903.30" y1="1327.93" x2="903.30" y2="1351.93" stroke="#2a2a2a" stroke-width="1.60"/>
<line x1="991.30" y1="1327.93" x2="991.30" y2="1351.93" stroke="#2a2a2a" stroke-width="1.60"/>
<rect x="797.60" y="1274.68" width="283.20" height="77.25" fill="none" stroke="#2a2a2a" stroke-width="1.50"/>
<line x1="797.40" y1="1274.68" x2="1081.00" y2="1274.68" stroke="#000" stroke-width="1.30"/>
<text x="804.80" y="1291.98" font-size="15.20" font-weight="bold" textLength="182.87" lengthAdjust="spacingAndGlyphs" fill="#000">app_question_answers</text>
<text x="1025.79" y="1292.98" font-size="15.20" textLength="48.21" lengthAdjust="spacingAndGlyphs" fill="#1a1a1a">[table]</text>
<rect x="803.35" y="1317.73" width="2.0" height="2.1" fill="#000"/>
<rect x="807.96" y="1317.73" width="2.0" height="2.1" fill="#000"/>
<rect x="812.57" y="1317.73" width="2.0" height="2.1" fill="#000"/>
<text x="802.80" y="1343.93" font-size="15.20" textLength="26.07" lengthAdjust="spacingAndGlyphs" fill="#000">&lt; 1</text>
<rect x="793.80" y="1380.02" width="290.80" height="77.25" fill="#fff"/>
<rect x="795.80" y="1381.82" width="286.80" height="26.45" fill="#f4f4f4"/>
<line x1="793.80" y1="1409.62" x2="1084.60" y2="1409.62" stroke="#000" stroke-width="1.90"/>
<line x1="793.80" y1="1433.27" x2="1084.60" y2="1433.27" stroke="#000" stroke-width="1.80"/>
<line x1="896.80" y1="1433.27" x2="896.80" y2="1457.27" stroke="#2a2a2a" stroke-width="1.60"/>
<line x1="981.90" y1="1433.27" x2="981.90" y2="1457.27" stroke="#2a2a2a" stroke-width="1.60"/>
<rect x="793.80" y="1380.02" width="290.80" height="77.25" fill="none" stroke="#2a2a2a" stroke-width="1.50"/>
<line x1="793.60" y1="1380.02" x2="1084.80" y2="1380.02" stroke="#000" stroke-width="1.30"/>
<text x="801.00" y="1397.32" font-size="15.20" font-weight="bold" textLength="189.61" lengthAdjust="spacingAndGlyphs" fill="#000">app_question_attempts</text>
<text x="1029.59" y="1398.32" font-size="15.20" textLength="48.21" lengthAdjust="spacingAndGlyphs" fill="#1a1a1a">[table]</text>
<rect x="799.55" y="1423.07" width="2.0" height="2.1" fill="#000"/>
<rect x="804.16" y="1423.07" width="2.0" height="2.1" fill="#000"/>
<rect x="808.77" y="1423.07" width="2.0" height="2.1" fill="#000"/>
<text x="799.00" y="1449.27" font-size="15.20" textLength="26.07" lengthAdjust="spacingAndGlyphs" fill="#000">&lt; 2</text>
<text x="1053.73" y="1449.27" font-size="15.20" textLength="26.07" lengthAdjust="spacingAndGlyphs" fill="#000">1 &gt;</text>
<rect x="788.80" y="1485.36" width="301.40" height="77.25" fill="#fff"/>
<rect x="790.80" y="1487.16" width="297.40" height="26.45" fill="#f4f4f4"/>
<line x1="788.80" y1="1514.96" x2="1090.20" y2="1514.96" stroke="#000" stroke-width="1.90"/>
<line x1="788.80" y1="1538.61" x2="1090.20" y2="1538.61" stroke="#000" stroke-width="1.80"/>
<line x1="900.60" y1="1538.61" x2="900.60" y2="1562.61" stroke="#2a2a2a" stroke-width="1.60"/>
<line x1="995.40" y1="1538.61" x2="995.40" y2="1562.61" stroke="#2a2a2a" stroke-width="1.60"/>
<rect x="788.80" y="1485.36" width="301.40" height="77.25" fill="none" stroke="#2a2a2a" stroke-width="1.50"/>
<line x1="788.60" y1="1485.36" x2="1090.40" y2="1485.36" stroke="#000" stroke-width="1.30"/>
<text x="796.00" y="1502.66" font-size="15.20" font-weight="bold" textLength="199.18" lengthAdjust="spacingAndGlyphs" fill="#000">app_question_calculated</text>
<text x="1035.19" y="1503.66" font-size="15.20" textLength="48.21" lengthAdjust="spacingAndGlyphs" fill="#1a1a1a">[table]</text>
<rect x="794.55" y="1528.41" width="2.0" height="2.1" fill="#000"/>
<rect x="799.16" y="1528.41" width="2.0" height="2.1" fill="#000"/>
<rect x="803.77" y="1528.41" width="2.0" height="2.1" fill="#000"/>
<text x="794.00" y="1554.61" font-size="15.20" textLength="26.07" lengthAdjust="spacingAndGlyphs" fill="#000">&lt; 1</text>
<rect x="747.20" y="1590.70" width="383.90" height="77.25" fill="#fff"/>
<rect x="749.20" y="1592.50" width="379.90" height="26.45" fill="#f4f4f4"/>
<line x1="747.20" y1="1620.30" x2="1131.10" y2="1620.30" stroke="#000" stroke-width="1.90"/>
<line x1="747.20" y1="1643.95" x2="1131.10" y2="1643.95" stroke="#000" stroke-width="1.80"/>
<line x1="887.10" y1="1643.95" x2="887.10" y2="1667.95" stroke="#2a2a2a" stroke-width="1.60"/>
<line x1="1008.60" y1="1643.95" x2="1008.60" y2="1667.95" stroke="#2a2a2a" stroke-width="1.60"/>
<rect x="747.20" y="1590.70" width="383.90" height="77.25" fill="none" stroke="#2a2a2a" stroke-width="1.50"/>
<line x1="747.00" y1="1590.70" x2="1131.30" y2="1590.70" stroke="#000" stroke-width="1.30"/>
<text x="754.40" y="1608.00" font-size="15.20" font-weight="bold" textLength="267.12" lengthAdjust="spacingAndGlyphs" fill="#000">app_question_calculated_options</text>
<text x="1076.09" y="1609.00" font-size="15.20" textLength="48.21" lengthAdjust="spacingAndGlyphs" fill="#1a1a1a">[table]</text>
<rect x="752.95" y="1633.75" width="2.0" height="2.1" fill="#000"/>
<rect x="757.56" y="1633.75" width="2.0" height="2.1" fill="#000"/>
<rect x="762.17" y="1633.75" width="2.0" height="2.1" fill="#000"/>
<text x="752.40" y="1659.95" font-size="15.20" textLength="26.07" lengthAdjust="spacingAndGlyphs" fill="#000">&lt; 1</text>
<rect x="796.60" y="1696.04" width="285.40" height="77.25" fill="#fff"/>
<rect x="798.60" y="1697.84" width="281.40" height="26.45" fill="#f4f4f4"/>
<line x1="796.60" y1="1725.64" x2="1082.00" y2="1725.64" stroke="#000" stroke-width="1.90"/>
<line x1="796.60" y1="1749.29" x2="1082.00" y2="1749.29" stroke="#000" stroke-width="1.80"/>
<line x1="903.30" y1="1749.29" x2="903.30" y2="1773.29" stroke="#2a2a2a" stroke-width="1.60"/>
<line x1="992.70" y1="1749.29" x2="992.70" y2="1773.29" stroke="#2a2a2a" stroke-width="1.60"/>
<rect x="796.60" y="1696.04" width="285.40" height="77.25" fill="none" stroke="#2a2a2a" stroke-width="1.50"/>
<line x1="796.40" y1="1696.04" x2="1082.20" y2="1696.04" stroke="#000" stroke-width="1.30"/>
<text x="803.80" y="1713.34" font-size="15.20" font-weight="bold" textLength="186.01" lengthAdjust="spacingAndGlyphs" fill="#000">app_question_datasets</text>
<text x="1026.99" y="1714.34" font-size="15.20" textLength="48.21" lengthAdjust="spacingAndGlyphs" fill="#1a1a1a">[table]</text>
<rect x="802.35" y="1739.09" width="2.0" height="2.1" fill="#000"/>
<rect x="806.96" y="1739.09" width="2.0" height="2.1" fill="#000"/>
<rect x="811.57" y="1739.09" width="2.0" height="2.1" fill="#000"/>
<text x="801.80" y="1765.29" font-size="15.20" textLength="26.07" lengthAdjust="spacingAndGlyphs" fill="#000">&lt; 2</text>
<rect x="803.00" y="1801.38" width="272.20" height="77.25" fill="#fff"/>
<rect x="805.00" y="1803.18" width="268.20" height="26.45" fill="#f4f4f4"/>
<line x1="803.00" y1="1830.98" x2="1075.20" y2="1830.98" stroke="#000" stroke-width="1.90"/>
<line x1="803.00" y1="1854.63" x2="1075.20" y2="1854.63" stroke="#000" stroke-width="1.80"/>
<line x1="906.20" y1="1854.63" x2="906.20" y2="1878.63" stroke="#2a2a2a" stroke-width="1.60"/>
<line x1="989.80" y1="1854.63" x2="989.80" y2="1878.63" stroke="#2a2a2a" stroke-width="1.60"/>
<rect x="803.00" y="1801.38" width="272.20" height="77.25" fill="none" stroke="#2a2a2a" stroke-width="1.50"/>
<line x1="802.80" y1="1801.38" x2="1075.40" y2="1801.38" stroke="#000" stroke-width="1.30"/>
<text x="810.20" y="1818.68" font-size="15.20" font-weight="bold" textLength="174.86" lengthAdjust="spacingAndGlyphs" fill="#000">app_question_ddwtos</text>
<text x="1020.19" y="1819.68" font-size="15.20" textLength="48.21" lengthAdjust="spacingAndGlyphs" fill="#1a1a1a">[table]</text>
<rect x="808.75" y="1844.43" width="2.0" height="2.1" fill="#000"/>
<rect x="813.36" y="1844.43" width="2.0" height="2.1" fill="#000"/>
<rect x="817.97" y="1844.43" width="2.0" height="2.1" fill="#000"/>
<text x="808.20" y="1870.63" font-size="15.20" textLength="26.07" lengthAdjust="spacingAndGlyphs" fill="#000">&lt; 1</text>
<rect x="791.60" y="1906.72" width="295.60" height="77.25" fill="#fff"/>
<rect x="793.60" y="1908.52" width="291.60" height="26.45" fill="#f4f4f4"/>
<line x1="791.60" y1="1936.32" x2="1087.20" y2="1936.32" stroke="#000" stroke-width="1.90"/>
<line x1="791.60" y1="1959.97" x2="1087.20" y2="1959.97" stroke="#000" stroke-width="1.80"/>
<line x1="902.10" y1="1959.97" x2="902.10" y2="1983.97" stroke="#2a2a2a" stroke-width="1.60"/>
<line x1="993.90" y1="1959.97" x2="993.90" y2="1983.97" stroke="#2a2a2a" stroke-width="1.60"/>
<rect x="791.60" y="1906.72" width="295.60" height="77.25" fill="none" stroke="#2a2a2a" stroke-width="1.50"/>
<line x1="791.40" y1="1906.72" x2="1087.40" y2="1906.72" stroke="#000" stroke-width="1.30"/>
<text x="798.80" y="1924.02" font-size="15.20" font-weight="bold" textLength="194.38" lengthAdjust="spacingAndGlyphs" fill="#000">app_question_gapselect</text>
<text x="1032.19" y="1925.02" font-size="15.20" textLength="48.21" lengthAdjust="spacingAndGlyphs" fill="#1a1a1a">[table]</text>
<rect x="797.35" y="1949.77" width="2.0" height="2.1" fill="#000"/>
<rect x="801.96" y="1949.77" width="2.0" height="2.1" fill="#000"/>
<rect x="806.57" y="1949.77" width="2.0" height="2.1" fill="#000"/>
<text x="796.80" y="1975.97" font-size="15.20" textLength="26.07" lengthAdjust="spacingAndGlyphs" fill="#000">&lt; 1</text>
<rect x="813.70" y="2012.06" width="250.90" height="77.25" fill="#fff"/>
<rect x="815.70" y="2013.86" width="246.90" height="26.45" fill="#f4f4f4"/>
<line x1="813.70" y1="2041.66" x2="1064.60" y2="2041.66" stroke="#000" stroke-width="1.90"/>
<line x1="813.70" y1="2065.31" x2="1064.60" y2="2065.31" stroke="#000" stroke-width="1.80"/>
<line x1="908.60" y1="2065.31" x2="908.60" y2="2089.31" stroke="#2a2a2a" stroke-width="1.60"/>
<line x1="986.00" y1="2065.31" x2="986.00" y2="2089.31" stroke="#2a2a2a" stroke-width="1.60"/>
<rect x="813.70" y="2012.06" width="250.90" height="77.25" fill="none" stroke="#2a2a2a" stroke-width="1.50"/>
<line x1="813.50" y1="2012.06" x2="1064.80" y2="2012.06" stroke="#000" stroke-width="1.30"/>
<text x="820.90" y="2029.36" font-size="15.20" font-weight="bold" textLength="156.48" lengthAdjust="spacingAndGlyphs" fill="#000">app_question_hints</text>
<text x="1009.59" y="2030.36" font-size="15.20" textLength="48.21" lengthAdjust="spacingAndGlyphs" fill="#1a1a1a">[table]</text>
<rect x="819.45" y="2055.11" width="2.0" height="2.1" fill="#000"/>
<rect x="824.06" y="2055.11" width="2.0" height="2.1" fill="#000"/>
<rect x="828.67" y="2055.11" width="2.0" height="2.1" fill="#000"/>
<text x="818.90" y="2081.31" font-size="15.20" textLength="26.07" lengthAdjust="spacingAndGlyphs" fill="#000">&lt; 1</text>
<rect x="777.70" y="2117.40" width="322.80" height="77.25" fill="#fff"/>
<rect x="779.70" y="2119.20" width="318.80" height="26.45" fill="#f4f4f4"/>
<line x1="777.70" y1="2147.00" x2="1100.50" y2="2147.00" stroke="#000" stroke-width="1.90"/>
<line x1="777.70" y1="2170.65" x2="1100.50" y2="2170.65" stroke="#000" stroke-width="1.80"/>
<line x1="896.80" y1="2170.65" x2="896.80" y2="2194.65" stroke="#2a2a2a" stroke-width="1.60"/>
<line x1="998.00" y1="2170.65" x2="998.00" y2="2194.65" stroke="#2a2a2a" stroke-width="1.60"/>
<rect x="777.70" y="2117.40" width="322.80" height="77.25" fill="none" stroke="#2a2a2a" stroke-width="1.50"/>
<line x1="777.50" y1="2117.40" x2="1100.70" y2="2117.40" stroke="#000" stroke-width="1.30"/>
<text x="784.90" y="2134.70" font-size="15.20" font-weight="bold" textLength="216.32" lengthAdjust="spacingAndGlyphs" fill="#000">app_question_multianswer</text>
<text x="1045.49" y="2135.70" font-size="15.20" textLength="48.21" lengthAdjust="spacingAndGlyphs" fill="#1a1a1a">[table]</text>
<rect x="783.45" y="2160.45" width="2.0" height="2.1" fill="#000"/>
<rect x="788.06" y="2160.45" width="2.0" height="2.1" fill="#000"/>
<rect x="792.67" y="2160.45" width="2.0" height="2.1" fill="#000"/>
<text x="782.90" y="2186.65" font-size="15.20" textLength="26.07" lengthAdjust="spacingAndGlyphs" fill="#000">&lt; 1</text>
<rect x="789.70" y="2222.74" width="299.00" height="77.25" fill="#fff"/>
<rect x="791.70" y="2224.54" width="295.00" height="26.45" fill="#f4f4f4"/>
<line x1="789.70" y1="2252.34" x2="1088.70" y2="2252.34" stroke="#000" stroke-width="1.90"/>
<line x1="789.70" y1="2275.99" x2="1088.70" y2="2275.99" stroke="#000" stroke-width="1.80"/>
<line x1="900.60" y1="2275.99" x2="900.60" y2="2299.99" stroke="#2a2a2a" stroke-width="1.60"/>
<line x1="993.90" y1="2275.99" x2="993.90" y2="2299.99" stroke="#2a2a2a" stroke-width="1.60"/>
<rect x="789.70" y="2222.74" width="299.00" height="77.25" fill="none" stroke="#2a2a2a" stroke-width="1.50"/>
<line x1="789.50" y1="2222.74" x2="1088.90" y2="2222.74" stroke="#000" stroke-width="1.30"/>
<text x="796.90" y="2240.04" font-size="15.20" font-weight="bold" textLength="196.09" lengthAdjust="spacingAndGlyphs" fill="#000">app_question_numerical</text>
<text x="1033.69" y="2241.04" font-size="15.20" textLength="48.21" lengthAdjust="spacingAndGlyphs" fill="#1a1a1a">[table]</text>
<rect x="795.45" y="2265.79" width="2.0" height="2.1" fill="#000"/>
<rect x="800.06" y="2265.79" width="2.0" height="2.1" fill="#000"/>
<rect x="804.67" y="2265.79" width="2.0" height="2.1" fill="#000"/>
<text x="794.90" y="2291.99" font-size="15.20" textLength="26.07" lengthAdjust="spacingAndGlyphs" fill="#000">&lt; 1</text>
<rect x="761.80" y="2590.50" width="356.10" height="77.25" fill="#fff"/>
<rect x="763.80" y="2592.30" width="352.10" height="26.45" fill="#f4f4f4"/>
<line x1="761.80" y1="2620.10" x2="1117.90" y2="2620.10" stroke="#000" stroke-width="1.90"/>
<line x1="761.80" y1="2643.75" x2="1117.90" y2="2643.75" stroke="#000" stroke-width="1.80"/>
<line x1="892.40" y1="2643.75" x2="892.40" y2="2667.75" stroke="#2a2a2a" stroke-width="1.60"/>
<line x1="1004.80" y1="2643.75" x2="1004.80" y2="2667.75" stroke="#2a2a2a" stroke-width="1.60"/>
<rect x="761.80" y="2590.50" width="356.10" height="77.25" fill="none" stroke="#2a2a2a" stroke-width="1.50"/>
<line x1="761.60" y1="2590.50" x2="1118.10" y2="2590.50" stroke="#000" stroke-width="1.30"/>
<text x="769.00" y="2607.80" font-size="15.20" font-weight="bold" textLength="244.19" lengthAdjust="spacingAndGlyphs" fill="#000">app_question_numerical_units</text>
<text x="1062.89" y="2608.80" font-size="15.20" textLength="48.21" lengthAdjust="spacingAndGlyphs" fill="#1a1a1a">[table]</text>
<rect x="767.55" y="2633.55" width="2.0" height="2.1" fill="#000"/>
<rect x="772.16" y="2633.55" width="2.0" height="2.1" fill="#000"/>
<rect x="776.77" y="2633.55" width="2.0" height="2.1" fill="#000"/>
<text x="767.00" y="2659.75" font-size="15.20" textLength="26.07" lengthAdjust="spacingAndGlyphs" fill="#000">&lt; 1</text>
<rect x="795.20" y="2695.84" width="289.60" height="77.25" fill="#fff"/>
<rect x="797.20" y="2697.64" width="285.60" height="26.45" fill="#f4f4f4"/>
<line x1="795.20" y1="2725.44" x2="1084.80" y2="2725.44" stroke="#000" stroke-width="1.90"/>
<line x1="795.20" y1="2749.09" x2="1084.80" y2="2749.09" stroke="#000" stroke-width="1.80"/>
<line x1="903.30" y1="2749.09" x2="903.30" y2="2773.09" stroke="#2a2a2a" stroke-width="1.60"/>
<line x1="993.80" y1="2749.09" x2="993.80" y2="2773.09" stroke="#2a2a2a" stroke-width="1.60"/>
<rect x="795.20" y="2695.84" width="289.60" height="77.25" fill="none" stroke="#2a2a2a" stroke-width="1.50"/>
<line x1="795.00" y1="2695.84" x2="1085.00" y2="2695.84" stroke="#000" stroke-width="1.30"/>
<text x="802.40" y="2713.14" font-size="15.20" font-weight="bold" textLength="188.85" lengthAdjust="spacingAndGlyphs" fill="#000">app_question_truefalse</text>
<text x="1029.79" y="2714.14" font-size="15.20" textLength="48.21" lengthAdjust="spacingAndGlyphs" fill="#1a1a1a">[table]</text>
<rect x="800.95" y="2738.89" width="2.0" height="2.1" fill="#000"/>
<rect x="805.56" y="2738.89" width="2.0" height="2.1" fill="#000"/>
<rect x="810.17" y="2738.89" width="2.0" height="2.1" fill="#000"/>
<text x="800.40" y="2765.09" font-size="15.20" textLength="26.07" lengthAdjust="spacingAndGlyphs" fill="#000">&lt; 1</text>
<rect x="837.80" y="2801.18" width="204.00" height="77.25" fill="#fff"/>
<rect x="839.80" y="2802.98" width="200.00" height="26.45" fill="#f4f4f4"/>
<line x1="837.80" y1="2830.78" x2="1041.80" y2="2830.78" stroke="#000" stroke-width="1.90"/>
<line x1="837.80" y1="2854.43" x2="1041.80" y2="2854.43" stroke="#000" stroke-width="1.80"/>
<line x1="918.10" y1="2854.43" x2="918.10" y2="2878.43" stroke="#2a2a2a" stroke-width="1.60"/>
<line x1="979.40" y1="2854.43" x2="979.40" y2="2878.43" stroke="#2a2a2a" stroke-width="1.60"/>
<rect x="837.80" y="2801.18" width="204.00" height="77.25" fill="none" stroke="#2a2a2a" stroke-width="1.50"/>
<line x1="837.60" y1="2801.18" x2="1042.00" y2="2801.18" stroke="#000" stroke-width="1.30"/>
<text x="845.00" y="2818.48" font-size="15.20" font-weight="bold" textLength="117.46" lengthAdjust="spacingAndGlyphs" fill="#000">app_quiz_slots</text>
<text x="986.79" y="2819.48" font-size="15.20" textLength="48.21" lengthAdjust="spacingAndGlyphs" fill="#1a1a1a">[table]</text>
<rect x="843.55" y="2844.23" width="2.0" height="2.1" fill="#000"/>
<rect x="848.16" y="2844.23" width="2.0" height="2.1" fill="#000"/>
<rect x="852.77" y="2844.23" width="2.0" height="2.1" fill="#000"/>
<text x="843.00" y="2870.43" font-size="15.20" textLength="26.07" lengthAdjust="spacingAndGlyphs" fill="#000">&lt; 2</text>
<rect x="709.90" y="2329.60" width="459.20" height="231.10" fill="#fff"/>
<rect x="712.90" y="2331.80" width="453.20" height="27.00" fill="#f4f4f4"/>
<line x1="709.90" y1="2359.80" x2="1169.10" y2="2359.80" stroke="#000" stroke-width="1.90"/>
<line x1="709.90" y1="2389.25" x2="1169.10" y2="2389.25" stroke="#000" stroke-width="1.80"/>
<line x1="709.90" y1="2418.70" x2="1169.10" y2="2418.70" stroke="#000" stroke-width="1.80"/>
<line x1="709.90" y1="2448.15" x2="1169.10" y2="2448.15" stroke="#000" stroke-width="1.80"/>
<line x1="709.90" y1="2477.60" x2="1169.10" y2="2477.60" stroke="#000" stroke-width="1.80"/>
<line x1="709.90" y1="2507.05" x2="1169.10" y2="2507.05" stroke="#000" stroke-width="1.80"/>
<line x1="709.90" y1="2536.50" x2="1169.10" y2="2536.50" stroke="#000" stroke-width="1.80"/>
<line x1="1056.60" y1="2359.80" x2="1056.60" y2="2536.50" stroke="#000" stroke-width="1.60"/>
<line x1="870.00" y1="2536.50" x2="870.00" y2="2560.70" stroke="#000" stroke-width="1.60"/>
<line x1="1011.20" y1="2536.50" x2="1011.20" y2="2560.70" stroke="#000" stroke-width="1.60"/>
<rect x="709.90" y="2329.60" width="459.20" height="231.10" fill="none" stroke="#000" stroke-width="3.60"/>
<text x="718.50" y="2347.90" font-size="15.20" font-weight="bold" textLength="264.03" lengthAdjust="spacingAndGlyphs" fill="#000">app_question_numerical_options</text>
<text x="1114.89" y="2348.80" font-size="15.20" textLength="48.21" lengthAdjust="spacingAndGlyphs" fill="#1a1a1a">[table]</text>
<g fill="#d5df00"><circle cx="725.20" cy="2369.30" r="3.15"/><rect x="724.05" y="2370.90" width="2.3" height="11.4" rx="0.4"/><circle cx="725.20" cy="2369.00" r="0.95" fill="#fff"/></g>
<text x="738.20" y="2378.20" font-size="15.20" textLength="13.28" lengthAdjust="spacingAndGlyphs" fill="#000">id</text>
<text x="1061.20" y="2378.20" font-size="15.20" textLength="91.90" lengthAdjust="spacingAndGlyphs" fill="#000">bigserial[19]</text>
<g fill="#c2c2c2"><circle cx="725.20" cy="2398.75" r="3.15"/><rect x="724.05" y="2400.35" width="2.3" height="11.4" rx="0.4"/><circle cx="725.20" cy="2398.45" r="0.95" fill="#fff"/></g>
<text x="738.20" y="2407.65" font-size="15.20" textLength="62.86" lengthAdjust="spacingAndGlyphs" fill="#000">question</text>
<text x="1061.20" y="2407.65" font-size="15.20" textLength="58.09" lengthAdjust="spacingAndGlyphs" fill="#000">int8[19]</text>
<text x="738.20" y="2437.10" font-size="15.20" textLength="73.37" lengthAdjust="spacingAndGlyphs" fill="#000">showunits</text>
<text x="1061.20" y="2437.10" font-size="15.20" textLength="48.84" lengthAdjust="spacingAndGlyphs" fill="#000">int2[5]</text>
<text x="738.20" y="2466.55" font-size="15.20" textLength="59.33" lengthAdjust="spacingAndGlyphs" fill="#000">unitsleft</text>
<text x="1061.20" y="2466.55" font-size="15.20" textLength="48.84" lengthAdjust="spacingAndGlyphs" fill="#000">int2[5]</text>
<text x="738.20" y="2496.00" font-size="15.20" textLength="116.57" lengthAdjust="spacingAndGlyphs" fill="#000">unitgradingtype</text>
<text x="1061.20" y="2496.00" font-size="15.20" textLength="48.84" lengthAdjust="spacingAndGlyphs" fill="#000">int2[5]</text>
<text x="738.20" y="2525.45" font-size="15.20" textLength="82.87" lengthAdjust="spacingAndGlyphs" fill="#000">unitpenalty</text>
<text x="1061.20" y="2525.45" font-size="15.20" textLength="103.34" lengthAdjust="spacingAndGlyphs" fill="#000">numeric[12,7]</text>
<text x="715.60" y="2553.10" font-size="15.20" textLength="26.07" lengthAdjust="spacingAndGlyphs" fill="#000">&lt; 1</text>
<text x="1137.53" y="2553.10" font-size="15.20" textLength="26.07" lengthAdjust="spacingAndGlyphs" fill="#000">0 &gt;</text>
<rect x="386.20" y="1325.40" width="257.10" height="253.20" fill="#fff"/>
<rect x="388.20" y="1327.20" width="253.10" height="26.60" fill="#f4f4f4"/>
<line x1="386.20" y1="1354.80" x2="643.30" y2="1354.80" stroke="#000" stroke-width="1.90"/>
<line x1="386.20" y1="1384.10" x2="643.30" y2="1384.10" stroke="#000" stroke-width="1.80"/>
<line x1="386.20" y1="1413.40" x2="643.30" y2="1413.40" stroke="#000" stroke-width="1.80"/>
<line x1="386.20" y1="1442.70" x2="643.30" y2="1442.70" stroke="#000" stroke-width="1.80"/>
<line x1="386.20" y1="1472.00" x2="643.30" y2="1472.00" stroke="#000" stroke-width="1.80"/>
<line x1="386.20" y1="1501.30" x2="643.30" y2="1501.30" stroke="#000" stroke-width="1.80"/>
<line x1="386.20" y1="1530.60" x2="643.30" y2="1530.60" stroke="#000" stroke-width="1.80"/>
<line x1="386.20" y1="1554.60" x2="643.30" y2="1554.60" stroke="#000" stroke-width="1.80"/>
<line x1="475.30" y1="1554.60" x2="475.30" y2="1578.60" stroke="#2a2a2a" stroke-width="1.60"/>
<line x1="546.20" y1="1554.60" x2="546.20" y2="1578.60" stroke="#2a2a2a" stroke-width="1.60"/>
<rect x="386.20" y="1325.40" width="257.10" height="253.20" fill="none" stroke="#2a2a2a" stroke-width="1.50"/>
<line x1="386.00" y1="1325.40" x2="643.50" y2="1325.40" stroke="#000" stroke-width="1.30"/>
<text x="393.40" y="1342.00" font-size="15.20" font-weight="bold" textLength="108.39" lengthAdjust="spacingAndGlyphs" fill="#000">app_question</text>
<text x="588.29" y="1343.00" font-size="15.20" textLength="48.21" lengthAdjust="spacingAndGlyphs" fill="#1a1a1a">[table]</text>
<g fill="#d5df00"><circle cx="400.00" cy="1364.30" r="3.15"/><rect x="398.85" y="1365.90" width="2.3" height="11.4" rx="0.4"/><circle cx="400.00" cy="1364.00" r="0.95" fill="#fff"/></g>
<text x="413.80" y="1372.90" font-size="15.20" textLength="13.28" lengthAdjust="spacingAndGlyphs" fill="#000">id</text>
<g fill="#c2c2c2"><circle cx="400.00" cy="1393.60" r="3.15"/><rect x="398.85" y="1395.20" width="2.3" height="11.4" rx="0.4"/><circle cx="400.00" cy="1393.30" r="0.95" fill="#fff"/></g>
<text x="413.80" y="1402.20" font-size="15.20" textLength="64.31" lengthAdjust="spacingAndGlyphs" fill="#000">category</text>
<g fill="#c2c2c2"><circle cx="400.00" cy="1422.90" r="3.15"/><rect x="398.85" y="1424.50" width="2.3" height="11.4" rx="0.4"/><circle cx="400.00" cy="1422.60" r="0.95" fill="#fff"/></g>
<text x="413.80" y="1431.50" font-size="15.20" textLength="47.69" lengthAdjust="spacingAndGlyphs" fill="#000">parent</text>
<text x="413.80" y="1460.80" font-size="15.20" textLength="41.74" lengthAdjust="spacingAndGlyphs" fill="#000">qtype</text>
<g fill="#c2c2c2"><circle cx="400.00" cy="1481.50" r="3.15"/><rect x="398.85" y="1483.10" width="2.3" height="11.4" rx="0.4"/><circle cx="400.00" cy="1481.20" r="0.95" fill="#fff"/></g>
<text x="413.80" y="1490.10" font-size="15.20" textLength="73.27" lengthAdjust="spacingAndGlyphs" fill="#000">createdby</text>
<g fill="#c2c2c2"><circle cx="400.00" cy="1510.80" r="3.15"/><rect x="398.85" y="1512.40" width="2.3" height="11.4" rx="0.4"/><circle cx="400.00" cy="1510.50" r="0.95" fill="#fff"/></g>
<text x="413.80" y="1519.40" font-size="15.20" textLength="81.56" lengthAdjust="spacingAndGlyphs" fill="#000">modifiedby</text>
<rect x="391.95" y="1544.40" width="2.0" height="2.1" fill="#000"/>
<rect x="396.56" y="1544.40" width="2.0" height="2.1" fill="#000"/>
<rect x="401.17" y="1544.40" width="2.0" height="2.1" fill="#000"/>
<text x="391.40" y="1570.60" font-size="15.20" textLength="26.07" lengthAdjust="spacingAndGlyphs" fill="#000">&lt; 4</text>
<text x="603.17" y="1570.60" font-size="15.20" textLength="35.33" lengthAdjust="spacingAndGlyphs" fill="#000">27 &gt;</text>
<rect x="15.80" y="1357.20" width="304.40" height="77.25" fill="#fff"/>
<rect x="17.80" y="1359.00" width="300.40" height="26.45" fill="#f4f4f4"/>
<line x1="15.80" y1="1386.80" x2="320.20" y2="1386.80" stroke="#000" stroke-width="1.90"/>
<line x1="15.80" y1="1410.45" x2="320.20" y2="1410.45" stroke="#000" stroke-width="1.80"/>
<line x1="124.00" y1="1410.45" x2="124.00" y2="1434.45" stroke="#2a2a2a" stroke-width="1.60"/>
<line x1="213.60" y1="1410.45" x2="213.60" y2="1434.45" stroke="#2a2a2a" stroke-width="1.60"/>
<rect x="15.80" y="1357.20" width="304.40" height="77.25" fill="none" stroke="#2a2a2a" stroke-width="1.50"/>
<line x1="15.60" y1="1357.20" x2="320.40" y2="1357.20" stroke="#000" stroke-width="1.30"/>
<text x="23.00" y="1374.50" font-size="15.20" font-weight="bold" textLength="201.07" lengthAdjust="spacingAndGlyphs" fill="#000">app_question_categories</text>
<text x="265.19" y="1375.50" font-size="15.20" textLength="48.21" lengthAdjust="spacingAndGlyphs" fill="#1a1a1a">[table]</text>
<rect x="21.55" y="1400.25" width="2.0" height="2.1" fill="#000"/>
<rect x="26.16" y="1400.25" width="2.0" height="2.1" fill="#000"/>
<rect x="30.77" y="1400.25" width="2.0" height="2.1" fill="#000"/>
<text x="21.00" y="1426.45" font-size="15.20" textLength="26.07" lengthAdjust="spacingAndGlyphs" fill="#000">&lt; 1</text>
<text x="289.33" y="1426.45" font-size="15.20" textLength="26.07" lengthAdjust="spacingAndGlyphs" fill="#000">3 &gt;</text>
<rect x="93.40" y="1467.60" width="150.40" height="77.25" fill="#fff"/>
<rect x="95.40" y="1469.40" width="146.40" height="26.45" fill="#f4f4f4"/>
<line x1="93.40" y1="1497.20" x2="243.80" y2="1497.20" stroke="#000" stroke-width="1.90"/>
<line x1="93.40" y1="1520.85" x2="243.80" y2="1520.85" stroke="#000" stroke-width="1.80"/>
<line x1="143.90" y1="1520.85" x2="143.90" y2="1544.85" stroke="#2a2a2a" stroke-width="1.60"/>
<line x1="176.00" y1="1520.85" x2="176.00" y2="1544.85" stroke="#2a2a2a" stroke-width="1.60"/>
<rect x="93.40" y="1467.60" width="150.40" height="77.25" fill="none" stroke="#2a2a2a" stroke-width="1.50"/>
<line x1="93.20" y1="1467.60" x2="244.00" y2="1467.60" stroke="#000" stroke-width="1.30"/>
<text x="100.60" y="1484.90" font-size="15.20" font-weight="bold" textLength="73.22" lengthAdjust="spacingAndGlyphs" fill="#000">app_user</text>
<text x="188.79" y="1485.90" font-size="15.20" textLength="48.21" lengthAdjust="spacingAndGlyphs" fill="#1a1a1a">[table]</text>
<rect x="99.15" y="1510.65" width="2.0" height="2.1" fill="#000"/>
<rect x="103.76" y="1510.65" width="2.0" height="2.1" fill="#000"/>
<rect x="108.37" y="1510.65" width="2.0" height="2.1" fill="#000"/>
<text x="98.60" y="1536.85" font-size="15.20" textLength="26.07" lengthAdjust="spacingAndGlyphs" fill="#000">&lt; 1</text>
<text x="194.41" y="1536.85" font-size="15.20" textLength="44.59" lengthAdjust="spacingAndGlyphs" fill="#000">264 &gt;</text>
<circle cx="765.50" cy="52.20" r="3.85" fill="#fff" stroke="#000" stroke-width="1.25"/>
<path d="M769.80,52.20 L782.00,45.80 L775.90,52.20 L782.00,52.20 L775.90,52.20 L782.00,58.60 Z" fill="#000" stroke="#000" stroke-width="1.0" stroke-linejoin="miter"/>
<circle cx="732.43" cy="160.26" r="3.85" fill="#fff" stroke="#000" stroke-width="1.25"/>
<path d="M736.67,159.55 L747.64,151.23 L742.68,158.55 L748.70,157.54 L742.68,158.55 L749.76,163.85 Z" fill="#000" stroke="#000" stroke-width="1.0" stroke-linejoin="miter"/>
<circle cx="732.43" cy="265.60" r="3.85" fill="#fff" stroke="#000" stroke-width="1.25"/>
<path d="M736.67,264.89 L747.64,256.57 L742.68,263.89 L748.70,262.88 L742.68,263.89 L749.76,269.19 Z" fill="#000" stroke="#000" stroke-width="1.0" stroke-linejoin="miter"/>
<circle cx="789.30" cy="368.22" r="3.85" fill="#fff" stroke="#000" stroke-width="1.25"/>
<path d="M793.60,368.22 L805.80,361.82 L799.70,368.22 L805.80,368.22 L799.70,368.22 L805.80,374.62 Z" fill="#000" stroke="#000" stroke-width="1.0" stroke-linejoin="miter"/>
<circle cx="757.70" cy="473.56" r="3.85" fill="#fff" stroke="#000" stroke-width="1.25"/>
<path d="M762.00,473.56 L774.20,467.16 L768.10,473.56 L774.20,473.56 L768.10,473.56 L774.20,479.96 Z" fill="#000" stroke="#000" stroke-width="1.0" stroke-linejoin="miter"/>
<circle cx="757.70" cy="578.90" r="3.85" fill="#fff" stroke="#000" stroke-width="1.25"/>
<path d="M762.00,578.90 L774.20,572.50 L768.10,578.90 L774.20,578.90 L768.10,578.90 L774.20,585.30 Z" fill="#000" stroke="#000" stroke-width="1.0" stroke-linejoin="miter"/>
<circle cx="773.70" cy="684.24" r="3.85" fill="#fff" stroke="#000" stroke-width="1.25"/>
<rect x="779.75" y="678.54" width="2.9" height="11.4" rx="0.4" fill="#000" transform="rotate(0.00 781.20 684.24)"/>
<line x1="777.60" y1="684.24" x2="781.20" y2="684.24" stroke="#000" stroke-width="1.20"/>
<circle cx="770.60" cy="789.58" r="3.85" fill="#fff" stroke="#000" stroke-width="1.25"/>
<rect x="776.65" y="783.88" width="2.9" height="11.4" rx="0.4" fill="#000" transform="rotate(0.00 778.10 789.58)"/>
<line x1="774.50" y1="789.58" x2="778.10" y2="789.58" stroke="#000" stroke-width="1.20"/>
<circle cx="737.42" cy="896.93" r="3.85" fill="#fff" stroke="#000" stroke-width="1.25"/>
<path d="M741.69,896.41 L753.02,888.57 L747.75,895.66 L753.80,894.92 L747.75,895.66 L754.58,901.27 Z" fill="#000" stroke="#000" stroke-width="1.0" stroke-linejoin="miter"/>
<circle cx="745.43" cy="1001.03" r="3.85" fill="#fff" stroke="#000" stroke-width="1.25"/>
<rect x="751.46" y="994.81" width="2.9" height="11.4" rx="0.4" fill="#000" transform="rotate(-4.00 752.91 1000.51)"/>
<line x1="749.32" y1="1000.76" x2="752.91" y2="1000.51" stroke="#000" stroke-width="1.20"/>
<circle cx="722.43" cy="1106.47" r="3.85" fill="#fff" stroke="#000" stroke-width="1.25"/>
<rect x="728.46" y="1100.18" width="2.9" height="11.4" rx="0.4" fill="#000" transform="rotate(-4.50 729.91 1105.88)"/>
<line x1="726.32" y1="1106.16" x2="729.91" y2="1105.88" stroke="#000" stroke-width="1.20"/>
<circle cx="740.36" cy="1212.10" r="3.85" fill="#fff" stroke="#000" stroke-width="1.25"/>
<rect x="746.37" y="1205.62" width="2.9" height="11.4" rx="0.4" fill="#000" transform="rotate(-6.00 747.82 1211.32)"/>
<line x1="744.24" y1="1211.69" x2="747.82" y2="1211.32" stroke="#000" stroke-width="1.20"/>
<circle cx="781.10" cy="1316.28" r="3.85" fill="#fff" stroke="#000" stroke-width="1.25"/>
<path d="M785.40,1316.28 L797.60,1309.88 L791.50,1316.28 L797.60,1316.28 L791.50,1316.28 L797.60,1322.68 Z" fill="#000" stroke="#000" stroke-width="1.0" stroke-linejoin="miter"/>
<circle cx="777.30" cy="1421.62" r="3.85" fill="#fff" stroke="#000" stroke-width="1.25"/>
<path d="M781.60,1421.62 L793.80,1415.22 L787.70,1421.62 L793.80,1421.62 L787.70,1421.62 L793.80,1428.02 Z" fill="#000" stroke="#000" stroke-width="1.0" stroke-linejoin="miter"/>
<circle cx="772.32" cy="1527.82" r="3.85" fill="#fff" stroke="#000" stroke-width="1.25"/>
<path d="M776.62,1527.60 L788.47,1520.57 L782.71,1527.28 L788.80,1526.96 L782.71,1527.28 L789.13,1533.35 Z" fill="#000" stroke="#000" stroke-width="1.0" stroke-linejoin="miter"/>
<circle cx="731.06" cy="1628.87" r="3.85" fill="#fff" stroke="#000" stroke-width="1.25"/>
<path d="M735.27,1629.76 L748.53,1626.04 L741.23,1631.03 L747.20,1632.30 L741.23,1631.03 L745.87,1638.56 Z" fill="#000" stroke="#000" stroke-width="1.0" stroke-linejoin="miter"/>
<circle cx="780.10" cy="1737.64" r="3.85" fill="#fff" stroke="#000" stroke-width="1.25"/>
<path d="M784.40,1737.64 L796.60,1731.24 L790.50,1737.64 L796.60,1737.64 L790.50,1737.64 L796.60,1744.04 Z" fill="#000" stroke="#000" stroke-width="1.0" stroke-linejoin="miter"/>
<circle cx="786.50" cy="1842.98" r="3.85" fill="#fff" stroke="#000" stroke-width="1.25"/>
<path d="M790.80,1842.98 L803.00,1836.58 L796.90,1842.98 L803.00,1842.98 L796.90,1842.98 L803.00,1849.38 Z" fill="#000" stroke="#000" stroke-width="1.0" stroke-linejoin="miter"/>
<circle cx="775.10" cy="1948.32" r="3.85" fill="#fff" stroke="#000" stroke-width="1.25"/>
<path d="M779.40,1948.32 L791.60,1941.92 L785.50,1948.32 L791.60,1948.32 L785.50,1948.32 L791.60,1954.72 Z" fill="#000" stroke="#000" stroke-width="1.0" stroke-linejoin="miter"/>
<circle cx="797.20" cy="2053.66" r="3.85" fill="#fff" stroke="#000" stroke-width="1.25"/>
<path d="M801.50,2053.66 L813.70,2047.26 L807.60,2053.66 L813.70,2053.66 L807.60,2053.66 L813.70,2060.06 Z" fill="#000" stroke="#000" stroke-width="1.0" stroke-linejoin="miter"/>
<circle cx="761.20" cy="2159.00" r="3.85" fill="#fff" stroke="#000" stroke-width="1.25"/>
<path d="M765.50,2159.00 L777.70,2152.60 L771.60,2159.00 L777.70,2159.00 L771.60,2159.00 L777.70,2165.40 Z" fill="#000" stroke="#000" stroke-width="1.0" stroke-linejoin="miter"/>
<circle cx="773.20" cy="2264.34" r="3.85" fill="#fff" stroke="#000" stroke-width="1.25"/>
<path d="M777.50,2264.34 L789.70,2257.94 L783.60,2264.34 L789.70,2264.34 L783.60,2264.34 L789.70,2270.74 Z" fill="#000" stroke="#000" stroke-width="1.0" stroke-linejoin="miter"/>
<circle cx="745.30" cy="2632.10" r="3.85" fill="#fff" stroke="#000" stroke-width="1.25"/>
<path d="M749.60,2632.10 L761.80,2625.70 L755.70,2632.10 L761.80,2632.10 L755.70,2632.10 L761.80,2638.50 Z" fill="#000" stroke="#000" stroke-width="1.0" stroke-linejoin="miter"/>
<circle cx="778.70" cy="2737.44" r="3.85" fill="#fff" stroke="#000" stroke-width="1.25"/>
<path d="M783.00,2737.44 L795.20,2731.04 L789.10,2737.44 L795.20,2737.44 L789.10,2737.44 L795.20,2743.84 Z" fill="#000" stroke="#000" stroke-width="1.0" stroke-linejoin="miter"/>
<circle cx="821.30" cy="2842.78" r="3.85" fill="#fff" stroke="#000" stroke-width="1.25"/>
<path d="M825.60,2842.78 L837.80,2836.38 L831.70,2842.78 L837.80,2842.78 L831.70,2842.78 L837.80,2849.18 Z" fill="#000" stroke="#000" stroke-width="1.0" stroke-linejoin="miter"/>
<circle cx="369.60" cy="1398.60" r="3.85" fill="#fff" stroke="#000" stroke-width="1.25"/>
<path d="M374.00,1398.60 L386.20,1392.20 L380.10,1398.60 L386.20,1398.60 L380.10,1398.60 L386.20,1405.00 Z" fill="#000" stroke="#000" stroke-width="1.0" stroke-linejoin="miter"/>
<circle cx="369.60" cy="1487.30" r="3.85" fill="#fff" stroke="#000" stroke-width="1.25"/>
<path d="M374.00,1487.30 L386.20,1480.90 L380.10,1487.30 L386.20,1487.30 L380.10,1487.30 L386.20,1493.70 Z" fill="#000" stroke="#000" stroke-width="1.0" stroke-linejoin="miter"/>
<circle cx="369.60" cy="1515.60" r="3.85" fill="#fff" stroke="#000" stroke-width="1.25"/>
<path d="M374.00,1515.60 L386.20,1509.20 L380.10,1515.60 L386.20,1515.60 L380.10,1515.60 L386.20,1522.00 Z" fill="#000" stroke="#000" stroke-width="1.0" stroke-linejoin="miter"/>
<circle cx="696.80" cy="2396.60" r="3.85" fill="#fff" stroke="#000" stroke-width="1.25"/>
<path d="M700.67,2398.46 L714.44,2397.99 L706.17,2401.11 L711.67,2403.76 L706.17,2401.11 L708.89,2409.52 Z" fill="#000" stroke="#000" stroke-width="1.0" stroke-linejoin="miter"/>
<text x="16.00" y="2918.40" font-size="15.20" textLength="189.88" lengthAdjust="spacingAndGlyphs" fill="#000">Generated by SchemaSpy</text>
</svg>
</body></html>
